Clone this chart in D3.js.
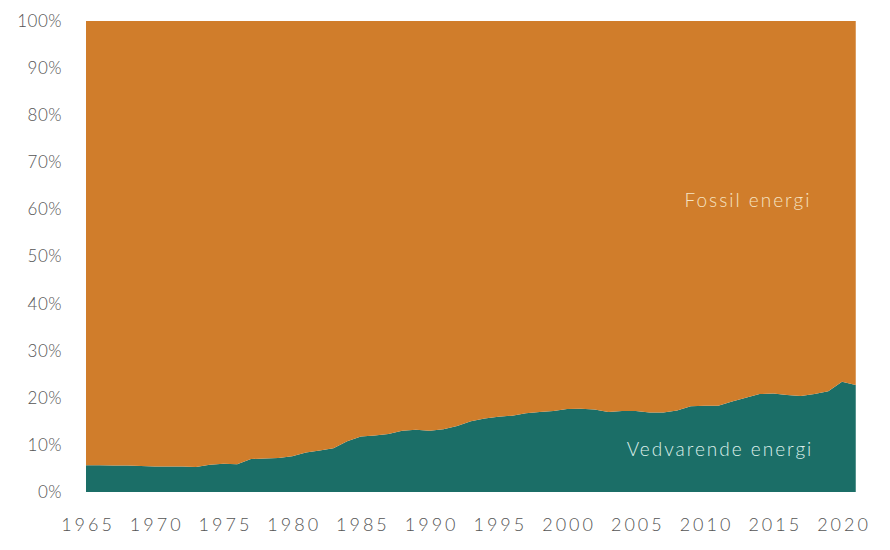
<!DOCTYPE html>
<html><head><meta charset="utf-8">
<script src="https://cdn.jsdelivr.net/npm/d3@7/dist/d3.min.js"></script>
<style>body{margin:0;background:#fff}svg{display:block}</style>
</head><body><svg id="c" width="890" height="550"></svg>
<script>
const years = d3.range(1965, 2022);
const renewable = [5.7,5.7,5.6,5.6,5.5,5.4,5.4,5.4,5.3,5.8,6.0,5.9,7.0,7.1,7.2,7.6,8.4,8.8,9.3,10.8,11.8,12.0,12.3,13.0,13.2,13.0,13.3,14.0,15.0,15.6,16.0,16.2,16.7,17.0,17.2,17.6,17.7,17.5,17.0,17.2,17.2,16.9,16.9,17.3,18.2,18.3,18.3,19.2,20.0,20.8,20.9,20.6,20.4,20.8,21.4,23.4,22.7];
const fossil = renewable.map(v => 100 - v);
const yTicks = [0,10,20,30,40,50,60,70,80,90,100];
const xTicks = [1965,1970,1975,1980,1985,1990,1995,2000,2005,2010,2015,2020];
const seriesNames = ["Vedvarende energi","Fossil energi"];
const colors = ["#1B6E67","#D07D2B"];

const svg = d3.select("#c");
const x = d3.scaleLinear().domain([1965,2020]).range([86,842]);
const y = d3.scaleLinear().domain([0,100]).range([492,21]);

const rows = years.map((yr,i)=>({year:yr, r:renewable[i], f:fossil[i]}));
const stack = d3.stack().keys(["r","f"])(rows);
const area = d3.area().x(d=>x(d.data.year)).y0(d=>y(d[0])).y1(d=>y(d[1]));
svg.selectAll("path.a").data(stack).join("path").attr("class","a")
  .attr("d",area).attr("fill",(d,i)=>colors[i]);

const font = "Lato, 'DejaVu Sans', sans-serif";
const yAxis = d3.axisLeft(y).tickValues(yTicks).tickFormat(d=>d+"%").tickSize(0).tickPadding(0);
const gy = svg.append("g").attr("transform","translate(62,0)").call(yAxis);
gy.select(".domain").remove();
gy.selectAll("text").attr("fill","#555").style("font-family",font).style("font-size","17px").style("font-weight","300").style("letter-spacing","0.5px");

const xAxis = d3.axisBottom(x).tickValues(xTicks).tickFormat(d3.format("d")).tickSize(0).tickPadding(0);
const gx = svg.append("g").attr("transform","translate(0,518)").call(xAxis);
gx.select(".domain").remove();
gx.selectAll("text").attr("fill","#555").style("font-family",font).style("font-size","18px").style("font-weight","300").style("letter-spacing","3px").attr("dx","1.5px");

svg.append("text").attr("x",748).attr("y",y(62)).attr("text-anchor","middle").attr("dy","0.35em")
  .attr("fill","#F6E3C2").style("font-family",font).style("font-size","19px").style("font-weight","300").style("letter-spacing","2px").text(seriesNames[1]);
svg.append("text").attr("x",720).attr("y",y(9)).attr("text-anchor","middle").attr("dy","0.35em")
  .attr("fill","#DDEEEA").style("font-family",font).style("font-size","19px").style("font-weight","300").style("letter-spacing","2px").text(seriesNames[0]);
</script></body></html>
